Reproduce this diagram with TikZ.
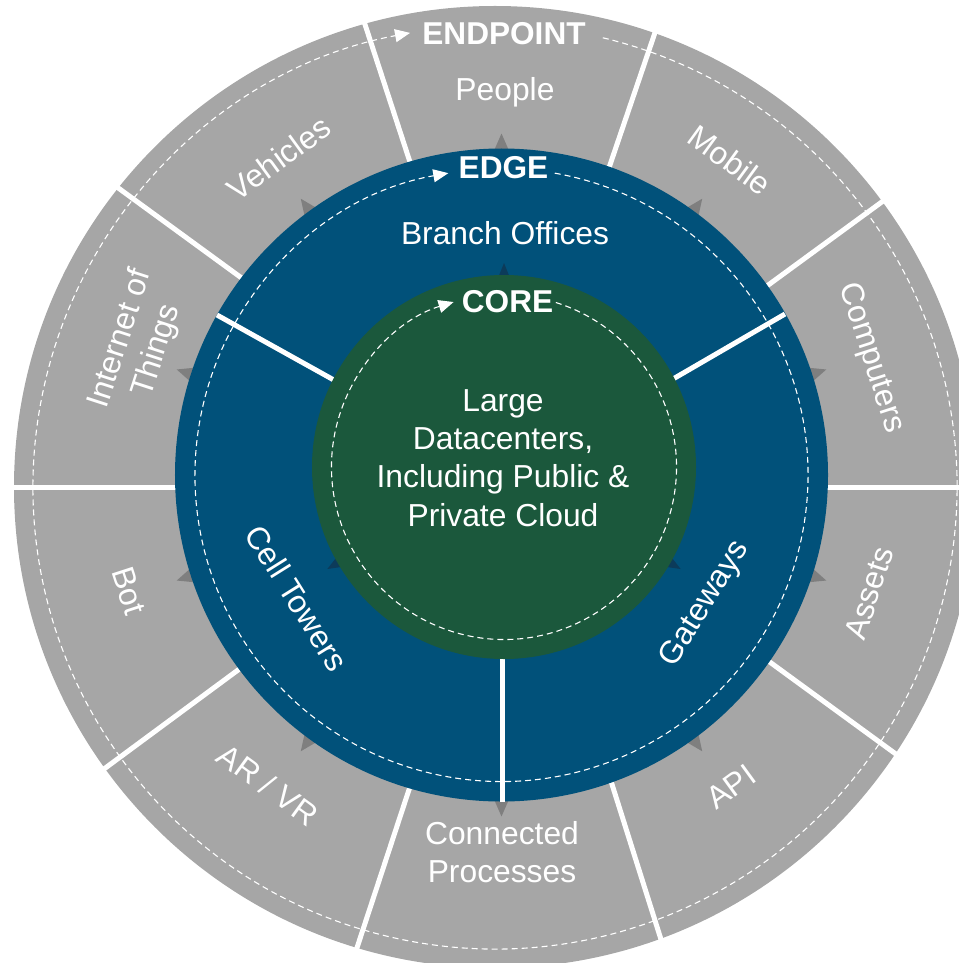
\documentclass[tikz,border=0pt]{standalone}
\usepackage{fontspec}
\setmainfont{Liberation Sans}
\usetikzlibrary{calc,arrows.meta}
\definecolor{ringgray}{HTML}{A6A6A6}
\definecolor{edgeblue}{HTML}{01517A}
\definecolor{coregreen}{HTML}{1B583C}
\definecolor{tipgray}{HTML}{7F7F7F}
\definecolor{tipblue}{HTML}{0C3B5A}
\begin{document}
\begin{tikzpicture}[x=1bp,y=1bp,
  lab/.style={text=white,font=\fontsize{31.8bp}{38.3bp}\selectfont,align=center,inner sep=0pt},
  ttl/.style={text=white,font=\fontsize{31.6bp}{38bp}\selectfont\bfseries,inner sep=0pt},
  divider/.style={white,line width=5bp},
  ringdash/.style={white,line width=1.1bp,dash pattern=on 6bp off 4bp,-{Triangle[length=15bp,width=13bp]}},
]
\useasboundingbox (0,0) rectangle (959,-963);
\coordinate (oc) at (495,-487);
\coordinate (bc) at (501.5,-475);
\coordinate (gc) at (504,-467);

% outer endpoint ring
\fill[ringgray] (oc) circle[radius=481bp];
\draw[divider] (358,-3) -- (425,-208);
\draw[divider] (662,-12) -- (595,-209);
\draw[divider] (905,-185) -- (730,-313);
\draw[divider] (800,-487) -- (975,-487);
\draw[divider] (915,-768) -- (730,-633);
\draw[divider] (670,-968) -- (598,-740);
\draw[divider] (350,-969) -- (425,-741);
\draw[divider] (85,-783) -- (280,-639);
\draw[divider] (-10,-487) -- (200,-487);
\draw[divider] (95,-171) -- (280,-306);
\draw[ringdash] ($(oc)+(76.5:462)$) arc[start angle=76.5, end angle=-259.4, radius=462bp];
\foreach \a in {90,54,18,-18,-54,-90,-126,-162,162,126} {
  \fill[tipgray] ($(bc)+({\a}:341.5)$) -- ($(bc)+({\a}:322)+({\a+90}:8.5)$) -- ($(bc)+({\a}:322)+({\a-90}:8.5)$) -- cycle;
}

% edge ring
\fill[edgeblue] (bc) circle[radius=326.5bp];
\draw[divider] (642,-397) -- (785,-314);
\draw[divider] (217,-315) -- (368,-399);
\draw[divider] (502,-640) -- (502,-801.5);
\draw[ringdash] ($(bc)+(80:306.5)$) arc[start angle=80, end angle=-260, radius=306.5bp];
\foreach \a in {90,-30,-150} {
  \fill[tipblue] ($(gc)+({\a}:204)$) -- ($(gc)+({\a}:189)+({\a+90}:6)$) -- ($(gc)+({\a}:189)+({\a-90}:6)$) -- cycle;
}

% core
\fill[coregreen] (gc) circle[radius=192bp];
\draw[ringdash] ($(gc)+(72.5:172.5)$) arc[start angle=72.5, end angle=-253, radius=172.5bp];

% titles
\node[ttl] (endpoint) at (504,-34) {ENDPOINT};
\node[ttl] (edge) at (503.5,-168) {EDGE};
\node[ttl] (core) at (507.5,-302) {CORE};

% endpoint labels
\node[lab] (people) at (505,-92) {People};
\node[lab,rotate=-36] (mobile) at (730,-160) {Mobile};
\node[lab,rotate=-72] (computers) at (871,-358) {Computers};
\node[lab,rotate=72] (assets) at (869,-593) {Assets};
\node[lab,rotate=36] (api) at (731,-787) {API};
\node[lab] (connected) at (502,-852) {Connected\\Processes};
\node[lab,rotate=-36] (arvr) at (268,-785) {AR / VR};
\node[lab,rotate=-72] (bot) at (129,-591) {Bot};
\node[lab,rotate=72] (iot) at (139,-345) {Internet of\\Things};
\node[lab,rotate=36] (vehicles) at (279,-158) {Vehicles};

% edge labels
\node[lab] (branch) at (505,-233) {Branch Offices};
\node[lab,rotate=58] (gateways) at (705,-604) {Gateways};
\node[lab,rotate=-58] (cell) at (297,-598) {Cell Towers};

% core label
\node[lab] (coretext) at (503,-458) {Large\\Datacenters,\\Including Public \&\\Private Cloud};
\end{tikzpicture}
\end{document}
